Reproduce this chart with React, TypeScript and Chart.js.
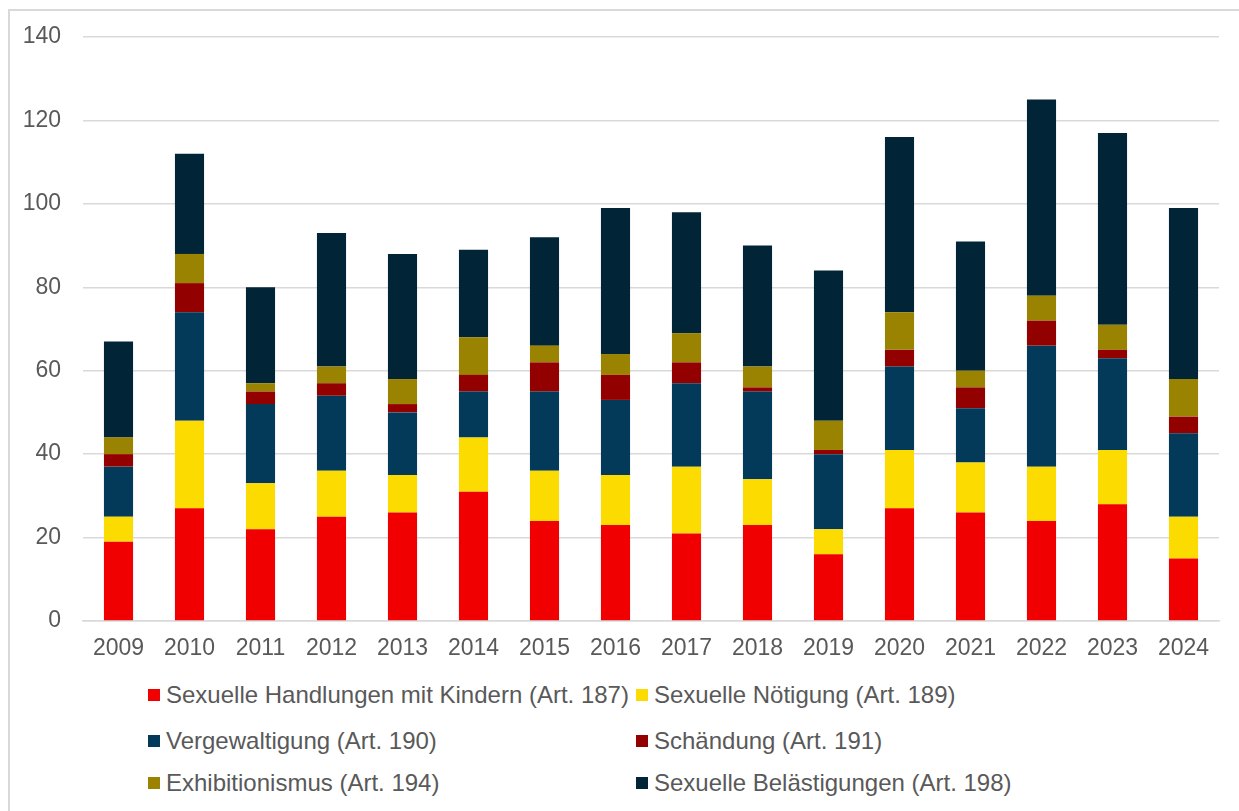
import React, { useEffect, useRef } from "react";
import { Chart, registerables } from "chart.js";

Chart.register(...registerables);

const years = ["2009", "2010", "2011", "2012", "2013", "2014", "2015", "2016", "2017", "2018", "2019", "2020", "2021", "2022", "2023", "2024"];
const handlungenKinder = [19, 27, 22, 25, 26, 31, 24, 23, 21, 23, 16, 27, 26, 24, 28, 15];
const noetigung = [6, 21, 11, 11, 9, 13, 12, 12, 16, 11, 6, 14, 12, 13, 13, 10];
const vergewaltigung = [12, 26, 19, 18, 15, 11, 19, 18, 20, 21, 18, 20, 13, 29, 22, 20];
const schaendung = [3, 7, 3, 3, 2, 4, 7, 6, 5, 1, 1, 4, 5, 6, 2, 4];
const exhibitionismus = [4, 7, 2, 4, 6, 9, 4, 5, 7, 5, 7, 9, 4, 6, 6, 9];
const belaestigungen = [23, 24, 23, 32, 30, 21, 26, 35, 29, 29, 36, 42, 31, 47, 46, 41];

const seriesLabels = [
  "Sexuelle Handlungen mit Kindern (Art. 187)",
  "Sexuelle Nötigung (Art. 189)",
  "Vergewaltigung (Art. 190)",
  "Schändung (Art. 191)",
  "Exhibitionismus (Art. 194)",
  "Sexuelle Belästigungen (Art. 198)",
];
const seriesValues = [handlungenKinder, noetigung, vergewaltigung, schaendung, exhibitionismus, belaestigungen];
const seriesColors = ["#F00000", "#FCDB00", "#033A59", "#920000", "#998300", "#012436"];

const yMin = 0;
const yMax = 140;
const yStep = 20;

const FONT = "'Liberation Sans', Arial, sans-serif";
const TEXT = "#595959";

export default function App() {
  const ref = useRef<HTMLCanvasElement | null>(null);

  useEffect(() => {
    if (!ref.current) return;
    const chart = new Chart(ref.current, {
      type: "bar",
      data: {
        labels: years,
        datasets: seriesLabels.map((label, i) => ({
          label,
          data: seriesValues[i],
          backgroundColor: seriesColors[i],
          borderWidth: 0,
          categoryPercentage: 1,
          barPercentage: 0.41,
        })),
      },
      options: {
        animation: false,
        responsive: false,
        devicePixelRatio: 1,
        layout: { padding: { top: 26, right: 12, bottom: 0, left: 0 } },
        plugins: { legend: { display: false }, tooltip: { enabled: false } },
        scales: {
          x: {
            stacked: true,
            grid: { display: false, drawTicks: false },
            border: { display: true, color: "#d9d9d9", width: 1.5 },
            ticks: { color: TEXT, font: { family: FONT, size: 23 }, padding: 14, maxRotation: 0 },
            afterFit: (s: any) => { s.height = 40; },
          },
          y: {
            stacked: true,
            min: yMin,
            max: yMax,
            ticks: { stepSize: yStep, color: TEXT, font: { family: FONT, size: 23 }, padding: 22 },
            grid: { color: "#d9d9d9", lineWidth: 1.5, drawTicks: false },
            border: { display: false },
            afterFit: (s: any) => { s.width = 73; s.paddingTop = 0; s.paddingBottom = 0; },
          },
        },
      },
    });
    return () => chart.destroy();
  }, []);

  const legendRows = [684, 730, 772];
  const legendCols = [138, 626];

  return (
    <div
      style={{
        position: "fixed",
        left: 8,
        top: 9,
        width: 1231,
        height: 802,
        borderTop: "2px solid #d9d9d9",
        borderLeft: "2px solid #d9d9d9",
        background: "#fff",
        fontFamily: FONT,
      }}
    >
      <canvas ref={ref} width={1221} height={650} style={{ position: "absolute", left: 0, top: 0, width: 1221, height: 650 }} />
      {seriesLabels.map((label, i) => {
        const row = Math.floor(i / 2);
        const col = i % 2;
        return (
          <div
            key={label}
            style={{
              position: "absolute",
              left: legendCols[col],
              top: legendRows[row] - 15,
              height: 30,
              display: "flex",
              alignItems: "center",
              whiteSpace: "nowrap",
              color: TEXT,
              fontSize: 24,
            }}
          >
            <span style={{ display: "inline-block", width: 12, height: 12, background: seriesColors[i], marginRight: 6 }} />
            <span>{label}</span>
          </div>
        );
      })}
    </div>
  );
}
